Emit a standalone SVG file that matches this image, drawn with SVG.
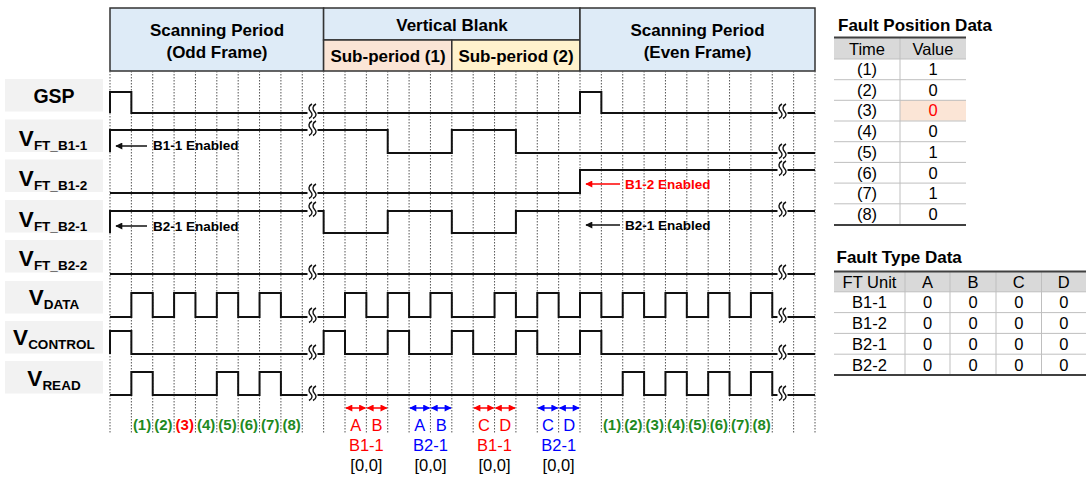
<svg xmlns="http://www.w3.org/2000/svg" width="1087" height="478" viewBox="0 0 1087 478">
<style>
text{font-family:"Liberation Sans",Arial,sans-serif;fill:#000}
.hd{font-size:17px;font-weight:bold;text-anchor:middle}
.lb{fill:#f2f2f2}
.lt{font-weight:bold;text-anchor:middle}
.V{font-size:22.5px}
.sub{font-size:13.5px}
.grid{stroke:#555;stroke-width:1;stroke-dasharray:1.5 1.5}
.wave{fill:none;stroke:#111;stroke-width:2}
.brk{fill:none;stroke:#111;stroke-width:1.4}
.en{font-size:13.5px;font-weight:bold}
.num{font-size:15px;font-weight:bold;text-anchor:middle;fill:#1f8a1f}
.ann{font-size:16.5px;text-anchor:middle}
.tt{font-size:17px;font-weight:bold}
.tc{font-size:16.5px;text-anchor:middle}
.rl{stroke:#bfbfbf;stroke-width:1}
.tk{stroke:#404040;stroke-width:2}
</style>
<defs>
<marker id="ahK" viewBox="0 0 10 10" refX="9" refY="5" markerWidth="8" markerHeight="7" markerUnits="userSpaceOnUse" orient="auto-start-reverse"><path d="M0,0 L10,5 L0,10 z" fill="#111"/></marker>
<marker id="ahR" viewBox="0 0 10 10" refX="9" refY="5" markerWidth="8" markerHeight="7" markerUnits="userSpaceOnUse" orient="auto-start-reverse"><path d="M0,0 L10,5 L0,10 z" fill="#ff0000"/></marker>
<marker id="ahB" viewBox="0 0 10 10" refX="9" refY="5" markerWidth="8" markerHeight="7" markerUnits="userSpaceOnUse" orient="auto-start-reverse"><path d="M0,0 L10,5 L0,10 z" fill="#0000ff"/></marker>
<g id="bk"><rect x="-5" y="-3" width="10" height="5" fill="#fff"/><path class="brk" d="M-0.5,-9 C-4.5,-7 -4,-3.5 -2,-1.5 C0,0.5 0.5,3.5 -3.5,5.5 M3.5,-9 C-0.5,-7 0,-3.5 2,-1.5 C4,0.5 4.5,3.5 0.5,5.5"/></g>
</defs>
<rect width="1087" height="478" fill="#fff"/>

<!-- header -->
<g id="header">
<g id="hdr-odd"><rect x="110" y="8" width="213.6" height="63" fill="#deebf7" stroke="#333" stroke-width="1.5"/>
<text class="hd" x="217" y="36">Scanning Period</text><text class="hd" x="217" y="58">(Odd Frame)</text></g>
<g id="hdr-vb"><rect x="323.6" y="8" width="256.4" height="32" fill="#deebf7" stroke="#333" stroke-width="1.5"/>
<text class="hd" x="452" y="31">Vertical Blank</text></g>
<g id="hdr-sub1"><rect x="323.6" y="40" width="128.2" height="31" fill="#fbe5d6" stroke="#333" stroke-width="1.5"/>
<text class="hd" x="388" y="62">Sub-period (1)</text></g>
<g id="hdr-sub2"><rect x="451.8" y="40" width="128.2" height="31" fill="#fff2cc" stroke="#333" stroke-width="1.5"/>
<text class="hd" x="516" y="62">Sub-period (2)</text></g>
<g id="hdr-even"><rect x="580" y="8" width="235" height="63" fill="#deebf7" stroke="#333" stroke-width="1.5"/>
<text class="hd" x="697.5" y="36">Scanning Period</text><text class="hd" x="697.5" y="58">(Even Frame)</text></g>
</g>

<!-- grid -->
<g id="grid" class="grid">
<path d="M110,71V434M131.36,71V434M152.73,71V434M174.09,71V434M195.45,71V434M216.82,71V434M238.18,71V434M259.55,71V434M280.91,71V434M302.27,71V434M323.64,71V434M345,71V434M366.36,71V434M387.73,71V434M409.09,71V434M430.45,71V434M451.82,71V434M473.18,71V434M494.55,71V434M515.91,71V434M537.27,71V434M558.64,71V434M580,71V434M601.36,71V434M622.73,71V434M644.09,71V434M665.45,71V434M686.82,71V434M708.18,71V434M729.55,71V434M750.91,71V434M772.27,71V434M793.64,71V434M815,71V434"/>
</g>

<!-- signal labels -->
<g id="lbl-gsp"><rect class="lb" x="5" y="79" width="98" height="32.5"/><text class="lt" x="54" y="103" font-size="19.5px">GSP</text></g>
<g id="lbl-b11"><rect class="lb" x="5" y="119.5" width="98" height="32.5"/><text class="lt" x="53" y="146"><tspan class="V">V</tspan><tspan class="sub" dy="4">FT_B1-1</tspan></text></g>
<g id="lbl-b12"><rect class="lb" x="5" y="159.5" width="98" height="32.5"/><text class="lt" x="53" y="186"><tspan class="V">V</tspan><tspan class="sub" dy="4">FT_B1-2</tspan></text></g>
<g id="lbl-b21"><rect class="lb" x="5" y="200" width="98" height="32.5"/><text class="lt" x="53" y="226.5"><tspan class="V">V</tspan><tspan class="sub" dy="4">FT_B2-1</tspan></text></g>
<g id="lbl-b22"><rect class="lb" x="5" y="240" width="98" height="32.5"/><text class="lt" x="53" y="266"><tspan class="V">V</tspan><tspan class="sub" dy="4">FT_B2-2</tspan></text></g>
<g id="lbl-data"><rect class="lb" x="5" y="281" width="98" height="32.5"/><text class="lt" x="54" y="304.5"><tspan class="V">V</tspan><tspan class="sub" dy="4">DATA</tspan></text></g>
<g id="lbl-ctrl"><rect class="lb" x="5" y="321" width="98" height="32.5"/><text class="lt" x="54" y="345"><tspan class="V">V</tspan><tspan class="sub" dy="4">CONTROL</tspan></text></g>
<g id="lbl-read"><rect class="lb" x="5" y="361" width="98" height="32.5"/><text class="lt" x="54" y="386"><tspan class="V">V</tspan><tspan class="sub" dy="4">READ</tspan></text></g>

<!-- waveforms -->
<g id="waves" class="wave">
<path id="w-gsp" d="M110,113V92H131.36V113H580V92H601.36V113H815"/>
<path id="w-b11" d="M110,152V130H387.73V153H451.82V130H515.91V153H815"/>
<path id="w-b12" d="M110,193H580V170H815"/>
<path id="w-b21" d="M110,233V211H323.64V233H387.73V211H451.82V233H515.91V211H815"/>
<path id="w-b22" d="M110,274H815"/>
<path id="w-data" d="M110,317H131.36V293H152.73V317H174.09V293H195.45V317H216.82V293H238.18V317H259.55V293H280.91V317H345V293H366.36V317H387.73V293H409.09V317H430.45V293H451.82V317H494.55V293H515.91V317H537.27V293H558.64V317H580V293H601.36V317H622.73V293H644.09V317H665.45V293H686.82V317H708.18V293H729.55V317H750.91V293H772.27V317H815"/>
<path id="w-ctrl" d="M110,354V331H131.36V354H323.64V331H345V354H387.73V331H409.09V354H451.82V331H473.18V354H515.91V331H537.27V354H580V331H601.36V354H815"/>
<path id="w-read" d="M110,395H131.36V372H152.73V395H216.82V372H238.18V395H259.55V372H280.91V395H622.73V372H644.09V395H665.45V372H686.82V395H708.18V372H729.55V395H750.91V372H772.27V395H815"/>
</g>

<!-- break marks -->
<g id="breaks">
<use href="#bk" x="312.5" y="113"/><use href="#bk" x="312.5" y="130"/><use href="#bk" x="312.5" y="193"/><use href="#bk" x="312.5" y="211"/><use href="#bk" x="312.5" y="274"/><use href="#bk" x="312.5" y="317"/><use href="#bk" x="312.5" y="354"/><use href="#bk" x="312.5" y="395"/>
<use href="#bk" x="782.5" y="113"/><use href="#bk" x="782.5" y="153"/><use href="#bk" x="782.5" y="170"/><use href="#bk" x="782.5" y="211"/><use href="#bk" x="782.5" y="274"/><use href="#bk" x="782.5" y="317"/><use href="#bk" x="782.5" y="354"/><use href="#bk" x="782.5" y="395"/>
</g>

<!-- enabled annotations -->
<g id="connectors">
<path d="M147,146H116" stroke="#111" stroke-width="1.5" marker-end="url(#ahK)"/>
<path d="M147,226H116" stroke="#111" stroke-width="1.5" marker-end="url(#ahK)"/>
<path d="M620,184H586" stroke="#ff0000" stroke-width="1.5" marker-end="url(#ahR)"/>
<path d="M620,225H586" stroke="#111" stroke-width="1.5" marker-end="url(#ahK)"/>
<path d="M346,408H365.4" stroke="#ff0000" stroke-width="1.5" marker-start="url(#ahR)" marker-end="url(#ahR)"/>
<path d="M367.3,408H386.8" stroke="#ff0000" stroke-width="1.5" marker-start="url(#ahR)" marker-end="url(#ahR)"/>
<path d="M410,408H429.5" stroke="#0000ff" stroke-width="1.5" marker-start="url(#ahB)" marker-end="url(#ahB)"/>
<path d="M431.4,408H450.9" stroke="#0000ff" stroke-width="1.5" marker-start="url(#ahB)" marker-end="url(#ahB)"/>
<path d="M474.1,408H493.6" stroke="#ff0000" stroke-width="1.5" marker-start="url(#ahR)" marker-end="url(#ahR)"/>
<path d="M495.5,408H515" stroke="#ff0000" stroke-width="1.5" marker-start="url(#ahR)" marker-end="url(#ahR)"/>
<path d="M538.2,408H557.7" stroke="#0000ff" stroke-width="1.5" marker-start="url(#ahB)" marker-end="url(#ahB)"/>
<path d="M559.6,408H579" stroke="#0000ff" stroke-width="1.5" marker-start="url(#ahB)" marker-end="url(#ahB)"/>
</g>
<g id="enabled-text">
<text class="en" x="153" y="149.5">B1-1 Enabled</text>
<text class="en" x="153" y="230.5">B2-1 Enabled</text>
<text class="en" x="625" y="188.5" style="fill:#ff0000">B1-2 Enabled</text>
<text class="en" x="625" y="229.5">B2-1 Enabled</text>
</g>

<!-- time index labels -->
<g id="time-odd">
<text class="num" x="142.05" y="429.5">(1)</text><text class="num" x="163.41" y="429.5">(2)</text><text class="num" x="184.77" y="429.5" style="fill:#ff0000">(3)</text><text class="num" x="206.14" y="429.5">(4)</text><text class="num" x="227.5" y="429.5">(5)</text><text class="num" x="248.86" y="429.5">(6)</text><text class="num" x="270.23" y="429.5">(7)</text><text class="num" x="291.59" y="429.5">(8)</text>
</g>
<g id="time-even">
<text class="num" x="612.05" y="429.5">(1)</text><text class="num" x="633.41" y="429.5">(2)</text><text class="num" x="654.77" y="429.5">(3)</text><text class="num" x="676.14" y="429.5">(4)</text><text class="num" x="697.5" y="429.5">(5)</text><text class="num" x="718.86" y="429.5">(6)</text><text class="num" x="740.23" y="429.5">(7)</text><text class="num" x="761.59" y="429.5">(8)</text>
</g>

<!-- sub-period annotations -->
<g id="ann-1">
<text class="ann" x="355.7" y="431" style="fill:#ff0000">A</text><text class="ann" x="377.05" y="431" style="fill:#ff0000">B</text>
<text class="ann" x="366.36" y="451" style="fill:#ff0000">B1-1</text><text class="ann" x="366.36" y="471">[0,0]</text>
</g>
<g id="ann-2">
<text class="ann" x="419.77" y="431" style="fill:#0000ff">A</text><text class="ann" x="441.14" y="431" style="fill:#0000ff">B</text>
<text class="ann" x="430.45" y="451" style="fill:#0000ff">B2-1</text><text class="ann" x="430.45" y="471">[0,0]</text>
</g>
<g id="ann-3">
<text class="ann" x="483.86" y="431" style="fill:#ff0000">C</text><text class="ann" x="505.23" y="431" style="fill:#ff0000">D</text>
<text class="ann" x="494.55" y="451" style="fill:#ff0000">B1-1</text><text class="ann" x="494.55" y="471">[0,0]</text>
</g>
<g id="ann-4">
<text class="ann" x="547.95" y="431" style="fill:#0000ff">C</text><text class="ann" x="569.32" y="431" style="fill:#0000ff">D</text>
<text class="ann" x="558.64" y="451" style="fill:#0000ff">B2-1</text><text class="ann" x="558.64" y="471">[0,0]</text>
</g>

<!-- Fault Position Data table -->
<g id="tbl-position">
<text class="tt" x="838" y="30.5">Fault Position Data</text>
<rect x="834" y="37.5" width="132" height="21.5" fill="#d9d9d9"/>
<rect x="900" y="100" width="66" height="20.7" fill="#fbe5d6"/>
<path class="rl" d="M900,37.5V225M834,59H966M834,79.7H966M834,100.3H966M834,121H966M834,141.7H966M834,162.4H966M834,183.1H966M834,203.8H966"/>
<path class="tk" d="M834,37.5H966M834,225H966"/>
<text class="tc" x="867" y="54.5">Time</text><text class="tc" x="933" y="54.5">Value</text>
<text class="tc" x="867" y="75">(1)</text><text class="tc" x="933" y="75">1</text>
<text class="tc" x="867" y="95.7">(2)</text><text class="tc" x="933" y="95.7">0</text>
<text class="tc" x="867" y="116.4">(3)</text><text class="tc" x="933" y="116.4" style="fill:#ff0000">0</text>
<text class="tc" x="867" y="137.1">(4)</text><text class="tc" x="933" y="137.1">0</text>
<text class="tc" x="867" y="157.8">(5)</text><text class="tc" x="933" y="157.8">1</text>
<text class="tc" x="867" y="178.5">(6)</text><text class="tc" x="933" y="178.5">0</text>
<text class="tc" x="867" y="199.2">(7)</text><text class="tc" x="933" y="199.2">1</text>
<text class="tc" x="867" y="219.9">(8)</text><text class="tc" x="933" y="219.9">0</text>
</g>

<!-- Fault Type Data table -->
<g id="tbl-type">
<text class="tt" x="836.5" y="263">Fault Type Data</text>
<rect x="834" y="271.5" width="252" height="20.3" fill="#d9d9d9"/>
<path class="rl" d="M905,271.5V375M950,271.5V375M996,271.5V375M1041.5,271.5V375M834,291.8H1086M834,312.6H1086M834,333.4H1086M834,354.2H1086"/>
<path class="tk" d="M834,271.5H1086M834,375H1086"/>
<text class="tc" x="869.5" y="288">FT Unit</text><text class="tc" x="927.5" y="288">A</text><text class="tc" x="973" y="288">B</text><text class="tc" x="1018.8" y="288">C</text><text class="tc" x="1063.8" y="288">D</text>
<text class="tc" x="869.5" y="308.3">B1-1</text><text class="tc" x="927.5" y="308.3">0</text><text class="tc" x="973" y="308.3">0</text><text class="tc" x="1018.8" y="308.3">0</text><text class="tc" x="1063.8" y="308.3">0</text>
<text class="tc" x="869.5" y="329.1">B1-2</text><text class="tc" x="927.5" y="329.1">0</text><text class="tc" x="973" y="329.1">0</text><text class="tc" x="1018.8" y="329.1">0</text><text class="tc" x="1063.8" y="329.1">0</text>
<text class="tc" x="869.5" y="349.9">B2-1</text><text class="tc" x="927.5" y="349.9">0</text><text class="tc" x="973" y="349.9">0</text><text class="tc" x="1018.8" y="349.9">0</text><text class="tc" x="1063.8" y="349.9">0</text>
<text class="tc" x="869.5" y="370.7">B2-2</text><text class="tc" x="927.5" y="370.7">0</text><text class="tc" x="973" y="370.7">0</text><text class="tc" x="1018.8" y="370.7">0</text><text class="tc" x="1063.8" y="370.7">0</text>
</g>
</svg>
